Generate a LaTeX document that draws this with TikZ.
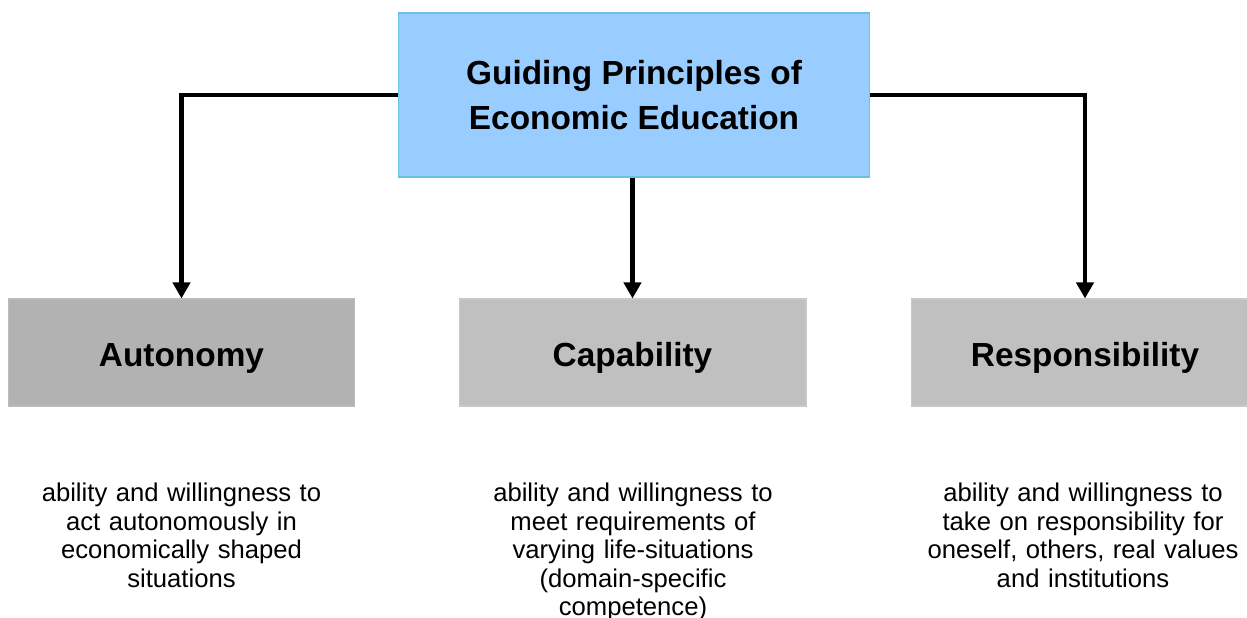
\documentclass[tikz,border=0pt]{standalone}
\usepackage{fontspec}
\setmainfont{Liberation Sans}
\usetikzlibrary{arrows.meta}
\usetikzlibrary{positioning}
\definecolor{topblue}{HTML}{99CCFF}
\definecolor{topedge}{HTML}{6CC0E4}
\definecolor{darkgrey}{HTML}{B2B2B2}
\definecolor{lightgrey}{HTML}{C0C0C0}
\tikzset{topbox/.style = {draw=topedge, fill=topblue, line width=0.6pt,
                          minimum width=9.44cm, minimum height=3.28cm,
                          inner sep=0pt, align=center,
                          font=\fontsize{19}{25.5}\selectfont\bfseries},
         pillar/.style = {draw=#1!88!white, fill=#1, line width=0.6pt,
                          minimum width=6.94cm, minimum height=2.14cm,
                          inner sep=0pt, text height=17.5pt, text depth=1pt,
                          font=\fontsize{19}{23}\selectfont\bfseries},
         blurb/.style = {anchor=north, inner sep=0pt, align=center,
                         text width=6.6cm,
                         font=\fontsize{14.6}{16.2}\selectfont},
         link/.style = {line width=2.8pt,
                        -{Triangle[width=0.34cm, length=0.32cm]}}}

\begin{document}
\begin{tikzpicture}[x=0.02cm, y=-0.02cm]
    \useasboundingbox (0, 0) rectangle (1247, 618);
    \clip (0, 0) rectangle (1247, 618);

    \node [topbox] (guide) at (634, 95) {Guiding Principles of\\Economic Education};

    \node [pillar=darkgrey] (auto) at (181.5, 352.5) {Autonomy};
    \node [pillar=lightgrey] (capa) at (632.5, 352.5) {Capability};
    \node [pillar=lightgrey] (resp) at (1085, 352.5) {Responsibility};

    \draw [link] (guide.west) -| (auto.north);
    \draw [link] (guide.south -| capa.north) -- (capa.north);
    \draw [link] (guide.east) -| (resp.north);

    \node [blurb] (autotext) at (181.5, 483)
        {ability and willingness to\\act autonomously in\\economically shaped\\situations};
    \node [blurb] (capatext) at (633, 483)
        {ability and willingness to\\meet requirements of\\varying life-situations\\(domain-specific\\competence)};
    \node [blurb] (resptext) at (1083, 483)
        {ability and willingness to\\take on responsibility for\\oneself, others, real values\\and institutions};
  \end{tikzpicture}
\end{document}
